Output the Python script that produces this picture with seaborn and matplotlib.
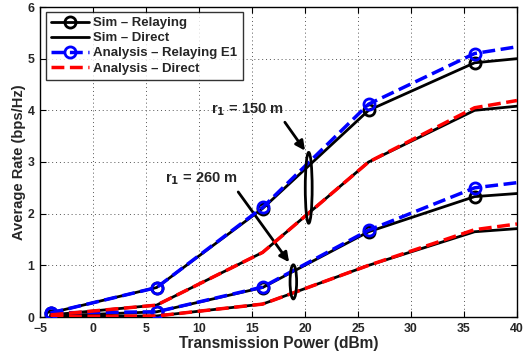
import numpy as np
import pandas as pd
import seaborn as sns
import matplotlib
matplotlib.use("Agg")
import matplotlib.pyplot as plt
from matplotlib.patches import Ellipse

# Transmission power points (dBm)
power = [-4, 6, 16, 26, 36, 40]

# r1 = 150 m
sim_relay_150 = [0.08, 0.57, 2.10, 4.00, 4.92, 5.00]
sim_direct_150 = [0.04, 0.23, 1.25, 3.00, 4.00, 4.08]
ana_relay_150 = [0.08, 0.57, 2.12, 4.12, 5.10, 5.23]
ana_direct_150 = [0.04, 0.23, 1.25, 3.00, 4.05, 4.19]

# r1 = 260 m
sim_relay_260 = [0.02, 0.10, 0.57, 1.65, 2.33, 2.39]
sim_direct_260 = [0.01, 0.02, 0.25, 1.00, 1.65, 1.71]
ana_relay_260 = [0.08, 0.10, 0.58, 1.68, 2.50, 2.60]
ana_direct_260 = [0.01, 0.02, 0.25, 1.00, 1.69, 1.80]

legend_labels = ["Sim \u2013 Relaying", "Sim \u2013 Direct",
                 "Analysis \u2013 Relaying E1", "Analysis \u2013 Direct"]

sns.set_theme(style="ticks")
plt.rcParams["font.family"] = ["Liberation Sans", "DejaVu Sans"]
plt.rcParams["font.weight"] = "bold"
plt.rcParams["mathtext.default"] = "bf"

fig = plt.figure(figsize=(5.24, 3.58), dpi=100)
ax = fig.add_axes([40 / 524, 41 / 358, 477 / 524, 310 / 358])

def frame(vals):
    return pd.DataFrame({"power": power, "rate": vals})

marks = [0, 1, 2, 3, 4]

# simulated curves (black solid)
for i, vals in enumerate([sim_relay_150, sim_relay_260]):
    sns.lineplot(data=frame(vals), x="power", y="rate", ax=ax, color="black",
                 lw=2, marker="o", markersize=8, markerfacecolor="none",
                 markeredgecolor="black", markeredgewidth=2, markevery=marks,
                 label=legend_labels[0] if i == 0 else None, zorder=3)
for i, vals in enumerate([sim_direct_150, sim_direct_260]):
    sns.lineplot(data=frame(vals), x="power", y="rate", ax=ax, color="black",
                 lw=2, label=legend_labels[1] if i == 0 else None, zorder=3)

# analytical curves (dashed, drawn on top)
for i, vals in enumerate([ana_relay_150, ana_relay_260]):
    sns.lineplot(data=frame(vals), x="power", y="rate", ax=ax, color="#0000ff",
                 lw=2.5, linestyle="--", marker="o", markersize=8,
                 markerfacecolor="none", markeredgecolor="#0000ff",
                 markeredgewidth=2, markevery=marks,
                 label=legend_labels[2] if i == 0 else None, zorder=4)
for i, vals in enumerate([ana_direct_150, ana_direct_260]):
    sns.lineplot(data=frame(vals), x="power", y="rate", ax=ax, color="#ff0000",
                 lw=2.5, linestyle="--",
                 label=legend_labels[3] if i == 0 else None, zorder=4)

ax.set_xlim(-5, 40)
ax.set_ylim(0, 6)
ax.set_xticks(range(-5, 41, 5))
ax.set_yticks(range(0, 7))
ax.grid(True, color="#555555", linestyle=(0, (1, 3)), linewidth=0.7)
ax.tick_params(direction="in", length=4, width=0.8, labelsize=8.8, pad=4,
               top=True, right=True, color="black")
for lab in ax.get_xticklabels() + ax.get_yticklabels():
    lab.set_fontweight("bold")
for sp in ax.spines.values():
    sp.set_color("black")
    sp.set_linewidth(1.0)

ax.set_xlabel("Transmission Power (dBm)", fontsize=11.2, fontweight="bold", labelpad=1)
ax.set_ylabel("Average Rate (bps/Hz)", fontsize=10.5, fontweight="bold", labelpad=1)

leg = ax.legend(loc="upper left", bbox_to_anchor=(0.012, 0.985),
                prop={"weight": "bold", "size": 9.5}, frameon=True, fancybox=False,
                handlelength=2.9, handletextpad=0.3, labelspacing=0.22,
                borderpad=0.4, borderaxespad=0.0)
leg.get_frame().set_edgecolor("black")
leg.get_frame().set_linewidth(1.0)

# annotations
ax.annotate("", xy=(20.0, 3.22), xytext=(18.1, 3.77),
            arrowprops=dict(arrowstyle="-|>", color="black", lw=2,
                            mutation_scale=14, shrinkA=0, shrinkB=0))
ax.text(14.6, 3.95, r"r$_{1}$ = 150 m", fontsize=10.5, fontweight="bold",
        ha="center", va="baseline")
ax.add_patch(Ellipse((20.35, 2.5), 0.65, 1.37, fill=False, edgecolor="black", lw=2,
                     zorder=5))

ax.annotate("", xy=(18.5, 1.06), xytext=(13.7, 2.42),
            arrowprops=dict(arrowstyle="-|>", color="black", lw=2,
                            mutation_scale=14, shrinkA=0, shrinkB=0))
ax.text(10.2, 2.61, r"r$_{1}$ = 260 m", fontsize=10.5, fontweight="bold",
        ha="center", va="baseline")
ax.add_patch(Ellipse((18.9, 0.68), 0.62, 0.66, fill=False, edgecolor="black", lw=2,
                     zorder=5))

fig.savefig("out.png", dpi=100)
